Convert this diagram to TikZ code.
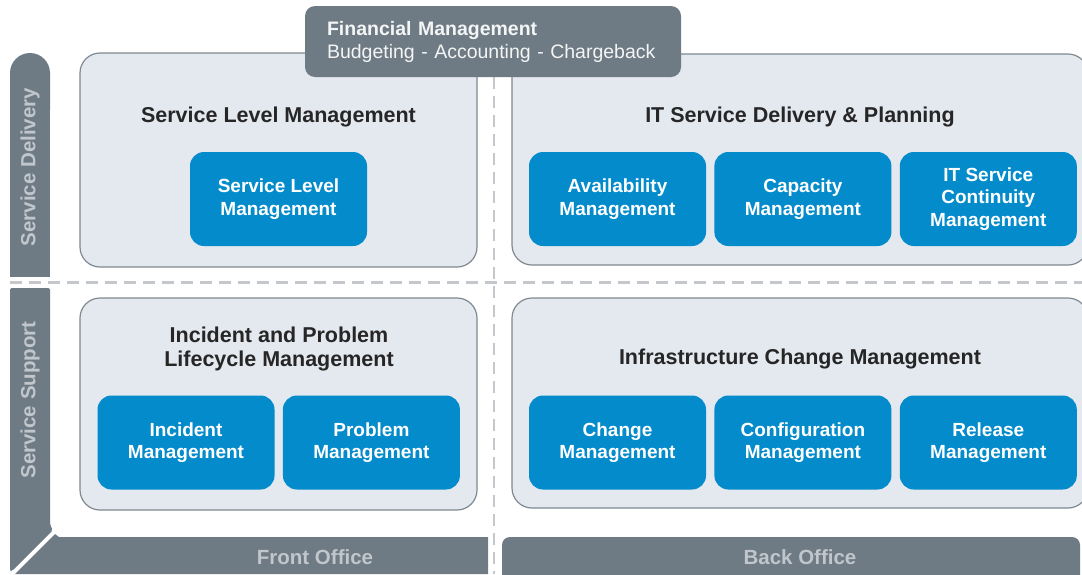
\documentclass[tikz,border=0pt]{standalone}
\usepackage{fontspec}
\setsansfont{Liberation Sans}
\usetikzlibrary{positioning}
\definecolor{barGray}{RGB}{110,123,132}
\definecolor{barText}{RGB}{192,198,203}
\definecolor{panelFill}{RGB}{228,232,239}
\definecolor{panelLine}{RGB}{128,137,145}
\definecolor{blockBlue}{RGB}{3,139,203}
\definecolor{titleText}{RGB}{38,38,38}
\definecolor{sepGray}{RGB}{196,200,204}
\tikzset{
  panel/.style = {draw=panelLine, fill=panelFill, line width=1.2pt,
    rounded corners=20pt, inner sep=0pt},% grey area
  block/.style = {fill=blockBlue, rounded corners=14pt, text=white,
    font=\sffamily\bfseries\fontsize{19}{22.5}\selectfont, align=center,
    minimum width=177pt, minimum height=94pt, inner sep=0pt},% blue process
  title/.style = {text=titleText, align=center,
    font=\sffamily\bfseries\fontsize{21.5}{24}\selectfont},% area heading
  bartext/.style = {text=barText,
    font=\sffamily\bfseries\fontsize{20.5}{24}\selectfont},% label on a bar
  sep/.style = {draw=sepGray, line width=3pt, dash pattern=on 12pt off 7pt}
}

\begin{document}
\begin{tikzpicture}[x=1pt, y=-1pt, node distance=8pt]
\useasboundingbox (0,0) rectangle (1082,574);
\clip (0,0) rectangle (1082,574);
\fill[white] (0,0) rectangle (1082,574);

% dashed cross
\draw[sep] (10,282) -- (1082,282);
\draw[sep, line width=2.5pt] (494,77) -- (494,574);

% side and bottom bars
\fill[barGray, rounded corners=20pt] (10,53) rectangle (50,130);
\fill[barGray] (10,90) rectangle (50,277);
\fill[barGray, rounded corners=2pt] (10,288) -- (50,288) -- (50,525) -- (53,530)
  -- (12,571) -- (10,571) -- cycle;
\fill[barGray] (15,574) -- (55,534) -- (59,537) -- (488,537) -- (488,574) -- cycle;
\fill[barGray, rounded corners=8pt] (502,537) rectangle (1080,590);

\node[bartext, rotate=90] (delivery) at (30,167) {Service Delivery};
\node[bartext, rotate=90] (support) at (30,400) {Service Support};
\node[bartext] (front) at (315,557) {Front Office};
\node[bartext] (back) at (800,557) {Back Office};

% areas
\node[panel, minimum width=397pt, minimum height=214pt] (slmarea) at (278.5,160) {};
\node[panel, minimum width=576pt, minimum height=211pt] (planarea) at (800,159.5) {};
\node[panel, minimum width=397pt, minimum height=212pt] (iplarea) at (278.5,404) {};
\node[panel, minimum width=576pt, minimum height=210pt] (icmarea) at (800,403) {};

\node[title] (slmtitle) at (278.5,117) {Service Level Management};
\node[title] (plantitle) at (800,117) {IT Service Delivery \& Planning};
\node[title] (ipltitle) at (279,349) {Incident and Problem\\Lifecycle Management};
\node[title] (icmtitle) at (800,359) {Infrastructure Change Management};

% processes
\node[block] (slm) at (278.5,199) {Service Level\\Management};
\node[block] (avail) at (617.5,199) {Availability\\Management};
\node[block, right=of avail] (capac) {Capacity\\Management};
\node[block, right=of capac] (contin) {IT Service\\Continuity\\Management};

\node[block] (incid) at (186,442.5) {Incident\\Management};
\node[block, right=of incid] (probl) {Problem\\Management};
\node[block] (change) at (617.5,442.5) {Change\\Management};
\node[block, right=of change] (config) {Configuration\\Management};
\node[block, right=of config] (release) {Release\\Management};

% finance on top
\node[fill=barGray, rounded corners=10pt, text=white!92!barGray,
  font=\sffamily\fontsize{19.5}{23}\selectfont, align=left,
  text width=332pt, inner xsep=22pt, inner ysep=0pt, minimum height=71pt]
  (finance) at (493,41.5)
  {{\bfseries Financial Management}\\Budgeting - Accounting - Chargeback};
\end{tikzpicture}
\end{document}
